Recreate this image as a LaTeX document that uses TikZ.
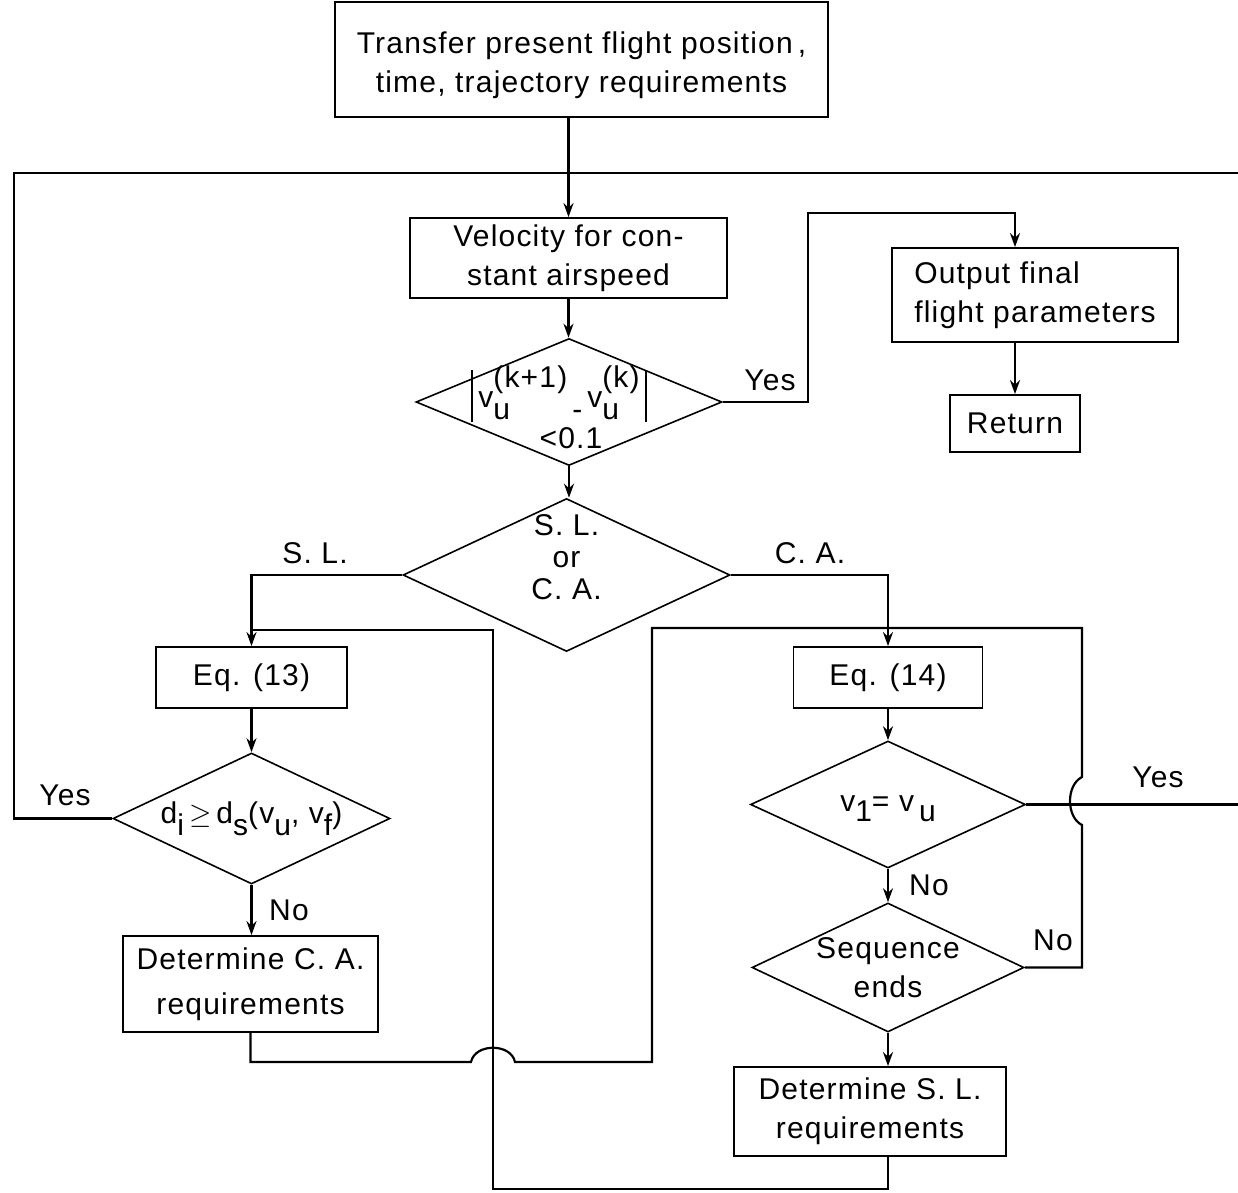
\documentclass[tikz,border=0pt]{standalone}
\usepackage{amsmath}
\usepackage{fontspec}
\setmainfont{Liberation Sans}[LetterSpace=4]
\usetikzlibrary{shapes.geometric,arrows.meta}
\newcommand{\lo}[1]{\raisebox{-6pt}{#1}}
\newcommand{\hi}[1]{\raisebox{10pt}{#1}}
\newcommand{\absbar}{\vrule width 1pt height 19pt depth 7pt}
\begin{document}
\begin{tikzpicture}[x=0.5pt,y=-0.5pt,
  every node/.style={font=\fontsize{15pt}{19.5pt}\selectfont},
  box/.style={draw, line width=0.9pt, inner sep=0pt, align=center},
  dia/.style={diamond, draw, line width=0.8pt, inner sep=0pt},
  conn/.style={line width=1.1pt},
  arr/.style={conn, -{Stealth[length=7pt,width=5pt]}},
  lab/.style={inner sep=1pt}]
\useasboundingbox (0,0) rectangle (1238,1193);
% boxes
\node[box, minimum width=246.5pt, minimum height=57.5pt] (top) at (581.5,59.5) {\rule{0pt}{17pt}Transfer present flight position\,,\\time, trajectory requirements};
\node[box, minimum width=158.5pt, minimum height=40pt] (vel) at (568.5,258) {Velocity for con-\\stant airspeed};
\node[box, align=left, minimum width=143pt, minimum height=47pt] (out) at (1035,295) {Output final\\flight parameters};
\node[box, minimum width=65pt, minimum height=28.5pt] (ret) at (1015,423.5) {Return};
\node[box, minimum width=95.5pt, minimum height=30.5pt] (eq13) at (251.5,677.5) {Eq. (13)};
\node[box, minimum width=94.5pt, minimum height=30.5pt] (eq14) at (888,677.5) {Eq. (14)};
\node[box, minimum width=127.5pt, minimum height=48pt] (dca) at (250.5,984) {Determine C. A.\\[3pt]requirements};
\node[box, minimum width=136pt, minimum height=44.5pt] (dsl) at (870,1111.5) {Determine S. L.\\requirements};
% diamonds
\node[dia, minimum width=153pt, minimum height=63.5pt,
  label={[xshift=-5pt, yshift=4pt, inner sep=0pt]center:\absbar\,v\rlap{\lo{u}}\hi{(k+1)}\,\lo{-}\,v\rlap{\lo{u}}\hi{(k)}\,\absbar},
  label={[xshift=1pt, yshift=-18pt, inner sep=0pt]center:{<}0.1}] (d1) at (569,402) {};
\node[dia, minimum width=163.5pt, minimum height=76.5pt,
  label={[align=center, yshift=9pt, font=\fontsize{15pt}{16pt}\selectfont]center:S. L.\\or\\C. A.}] (d2) at (566.5,575) {};
\node[dia, minimum width=138.5pt, minimum height=65.5pt,
  label={center:d\lo{i}\,$\geq$\,d\lo{s}(v\lo{u}, v\lo{f})}] (d3) at (251.5,818.5) {};
\node[dia, minimum width=137.5pt, minimum height=63.5pt,
  label={[yshift=-2pt]center:\raisebox{5pt}{v}1\raisebox{5pt}{=}\ \raisebox{5pt}{v}\,u}] (d4) at (888,804.5) {};
\node[dia, minimum width=136pt, minimum height=64.5pt,
  label={[align=center]center:Sequence\\ends}] (d5) at (888,967.5) {};
% branch labels
\node[lab] (y1) at (770,380) {Yes};
\node[lab] (sl) at (315,553) {S. L.};
\node[lab] (ca) at (810,553) {C. A.};
\node[lab] (y2) at (65,795) {Yes};
\node[lab] (n1) at (289,910) {No};
\node[lab] (n2) at (929,885) {No};
\node[lab] (y3) at (1158,777) {Yes};
\node[lab] (n3) at (1053,940) {No};
% coordinates
\coordinate (Lc) at (14,173);
\coordinate (Rc) at (1238,173);
\coordinate (Re) at (1238,0);
\coordinate (yj) at (808,213);
\coordinate (B1) at (493,1189);
\coordinate (J1) at (493,630);
\coordinate (bA) at (471,1062);
\coordinate (bB) at (515,1062);
\coordinate (C2) at (652,628);
\coordinate (C3) at (1082,628);
\coordinate (vA) at (1082,777);
\coordinate (vB) at (1082,825);
% connectors
\draw[arr] (top.south -| vel.north) -- (vel.north);
\draw[conn] (d3.west) -| (Lc) -- (Rc);
\draw[conn] (d4.east) -- (d4.east -| Re);
\draw[arr] (vel.south) -- (vel.south |- d1.north);
\draw[arr] (d1.east) -| (yj) -| (ret.north |- out.north);
\draw[arr] (ret.north |- out.south) -- (ret.north);
\draw[arr] (d1.south) -- (d1.south |- d2.north);
\draw[arr] (d2.west) -| (eq13.north);
\draw[arr] (d2.east) -| (eq14.north);
\draw[arr] (eq13.south) -- (d3.north);
\draw[arr] (d3.south) -- (d3.south |- dca.north);
\draw[arr] (eq14.south) -- (d4.north);
\draw[arr] (d4.south) -- (d5.north);
\draw[arr] (d5.south) -- (d5.south |- dsl.north);
\draw[conn] (d5.south |- dsl.south) |- (B1) -- (J1) -- (J1 -| eq13.north);
\draw[conn] (dca.south) |- (bA) .. controls +(4,-19) and +(-4,-19) .. (bB) -| (C2) -- (C3) -- (vA) .. controls +(-16,8) and +(-16,-8) .. (vB) |- (d5.east);
\end{tikzpicture}
\end{document}
